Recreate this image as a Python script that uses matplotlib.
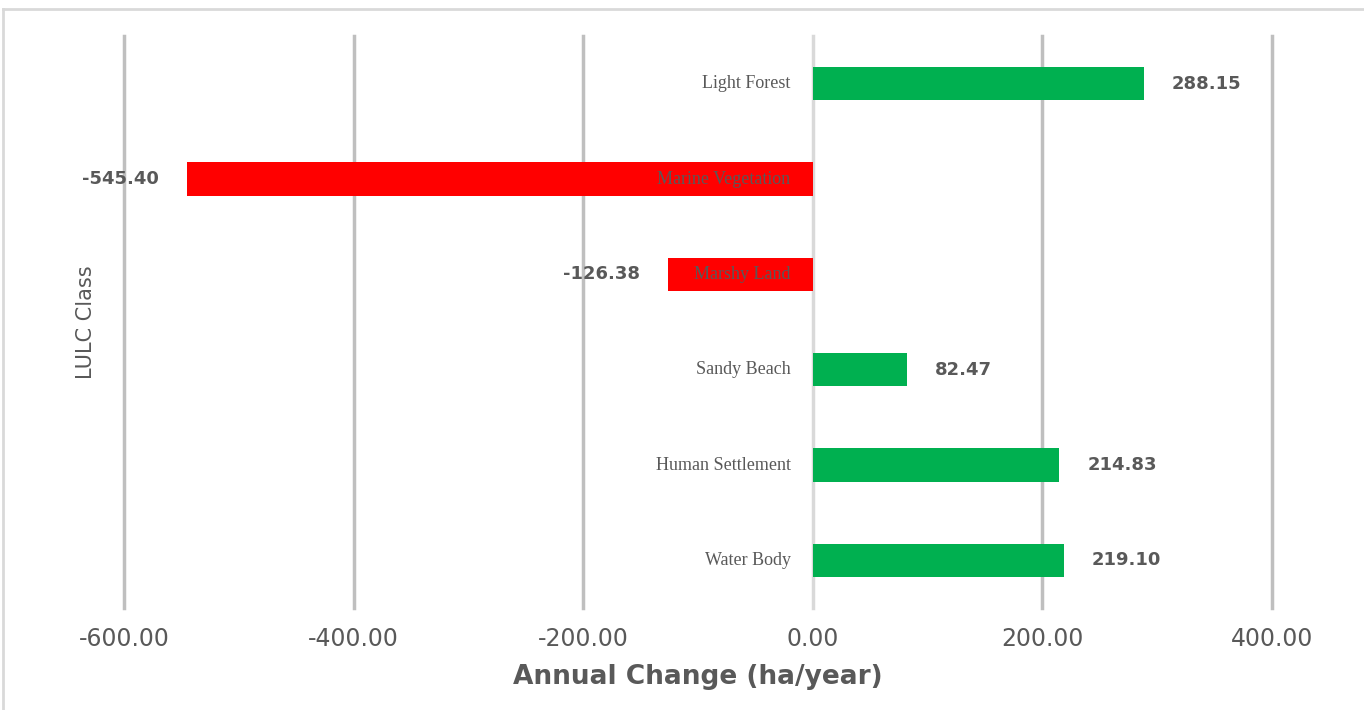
import matplotlib
matplotlib.use('Agg')
import matplotlib.pyplot as plt
from matplotlib.lines import Line2D

# data
classes = ['Light Forest', 'Marine Vegetation', 'Marshy Land', 'Sandy Beach', 'Human Settlement', 'Water Body']
annual_change = [288.15, -545.40, -126.38, 82.47, 214.83, 219.10]
tick_values = [-600, -400, -200, 0, 200, 400]

green = '#00b050'
red = '#ff0000'
text_grey = '#595959'

fig = plt.figure(figsize=[13.64, 7.10], dpi=100)
ax = fig.add_axes([124/1364, 1 - 608/710, (1272 - 124)/1364, (608 - 36)/710])

pos = list(range(len(classes)))
colors = [green if v >= 0 else red for v in annual_change]
ax.barh(pos, annual_change, height=0.35, color=colors, zorder=3)

ax.set_xlim(-600, 400)
ax.set_ylim(len(classes) - 0.5, -0.5)

# vertical gridlines, zero line lighter
for t in tick_values:
    ax.axvline(t, color='#d9d9d9' if t == 0 else '#bfbfbf', linewidth=2.5, zorder=1, clip_on=False)

# category labels sit just left of the zero line
for p, name in zip(pos, classes):
    ax.annotate(name, xy=(0, p), xytext=(-16, 0), textcoords='offset points',
                ha='right', va='center', fontsize=13, family='Liberation Serif',
                color=text_grey, zorder=4)

# value labels outside bar ends
for p, v in zip(pos, annual_change):
    off = 20 if v >= 0 else -20
    ax.annotate('%.2f' % v, xy=(v, p), xytext=(off, 0), textcoords='offset points',
                ha='left' if v >= 0 else 'right', va='center', fontsize=13,
                fontweight='bold', family='DejaVu Sans Condensed', color=text_grey, zorder=4)

ax.set_xticks(tick_values)
ax.set_xticklabels(['%.2f' % t for t in tick_values], fontsize=17, color=text_grey)
ax.tick_params(axis='x', length=0, pad=14)
ax.set_yticks([])
for s in ax.spines.values():
    s.set_visible(False)

ax.set_xlabel('Annual Change (ha/year)', fontsize=19, fontweight='bold', color=text_grey, labelpad=9)
ax.set_ylabel('LULC Class', fontsize=15, family=['Liberation Sans Narrow', 'DejaVu Sans'],
              color=text_grey, labelpad=20)

# light frame on top and left edges
fig.add_artist(Line2D([3/1364, 3/1364], [0, 1 - 9/710], transform=fig.transFigure, color='#d9d9d9', linewidth=2))
fig.add_artist(Line2D([3/1364, 1], [1 - 9/710, 1 - 9/710], transform=fig.transFigure, color='#d9d9d9', linewidth=2))

fig.savefig('out.png', dpi=100)
